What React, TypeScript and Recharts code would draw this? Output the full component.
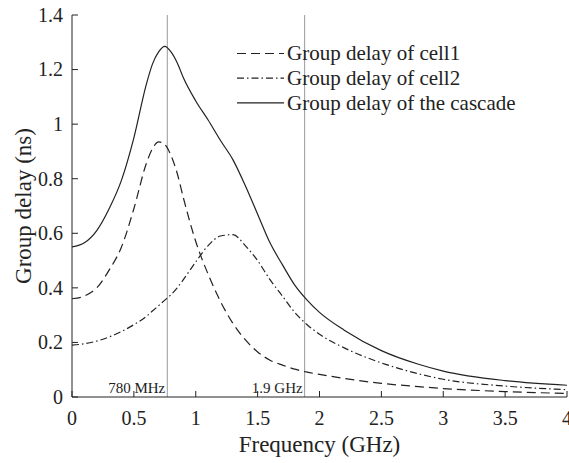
import { LineChart, Line, XAxis, YAxis, ReferenceLine, Legend } from 'recharts';

const SERIF = '"Liberation Serif", "Times New Roman", serif';
const INK = '#222';
const serifStyle = { fontFamily: SERIF };

// frequency grid (GHz) and group delays (ns)
const FREQ = [0, 0.1, 0.2, 0.3, 0.4, 0.5, 0.6, 0.65, 0.7, 0.75, 0.8, 0.85, 0.9, 1.0, 1.1, 1.2, 1.3, 1.4, 1.5, 1.6, 1.7, 1.8, 1.9, 2.0, 2.2, 2.5, 2.8, 3.0, 3.5, 4.0];
const CELL1 = [0.36, 0.37, 0.4, 0.465, 0.55, 0.69, 0.855, 0.91, 0.935, 0.925, 0.885, 0.82, 0.73, 0.57, 0.45, 0.35, 0.27, 0.21, 0.165, 0.135, 0.117, 0.102, 0.091, 0.083, 0.068, 0.05, 0.038, 0.031, 0.02, 0.013];
const CELL2 = [0.19, 0.195, 0.205, 0.22, 0.24, 0.265, 0.295, 0.315, 0.335, 0.355, 0.375, 0.4, 0.43, 0.495, 0.555, 0.59, 0.595, 0.555, 0.5, 0.43, 0.37, 0.31, 0.265, 0.23, 0.18, 0.125, 0.085, 0.065, 0.04, 0.027];
const CASCADE = [0.55, 0.565, 0.61, 0.69, 0.795, 0.95, 1.145, 1.22, 1.265, 1.285, 1.265, 1.225, 1.17, 1.085, 1.015, 0.94, 0.87, 0.775, 0.67, 0.565, 0.485, 0.41, 0.355, 0.31, 0.245, 0.17, 0.12, 0.095, 0.06, 0.043];

const X_TICKS = [0, 0.5, 1, 1.5, 2, 2.5, 3, 3.5, 4];
const Y_TICKS = [0, 0.2, 0.4, 0.6, 0.8, 1, 1.2, 1.4];
const MARKERS = [{ f: 0.77, label: '780 MHz' }, { f: 1.88, label: '1.9 GHz' }];

const SERIES = [
  { key: 'cell1', name: 'Group delay of cell1', dash: '9 5' },
  { key: 'cell2', name: 'Group delay of cell2', dash: '7 3 1.5 3' },
  { key: 'cascade', name: 'Group delay of the cascade', dash: undefined },
];

const data = FREQ.map((f, i) => ({ f, cell1: CELL1[i], cell2: CELL2[i], cascade: CASCADE[i] }));

const renderLegend = () => (
  <svg width={320} height={76} style={{ display: 'block' }}>
    {SERIES.map((s, i) => (
      <g key={s.key} transform={`translate(0, ${12.5 + i * 24.7})`}>
        <line x1={0} x2={47} y1={0} y2={0} stroke={INK} strokeWidth={1.2} strokeDasharray={s.dash} />
        <text x={50} y={0} dy="0.33em" fontSize={21} style={serifStyle} fill={INK}>{s.name}</text>
      </g>
    ))}
  </svg>
);

const xTick = (p: any) => (
  <text x={p.x} y={p.y} dy="0.71em" textAnchor="middle" fontSize={20} fill={INK} style={serifStyle}>
    {p.payload.value}
  </text>
);

const yTick = (p: any) => (
  <text x={p.x} y={p.y} dy="0.34em" textAnchor="end" fontSize={20} fill={INK} style={serifStyle}>
    {p.payload.value}
  </text>
);

const xLabel = (p: any) => (
  <text x={p.viewBox.x + p.viewBox.width / 2} y={452} textAnchor="middle" fontSize={23} fill={INK} style={serifStyle}>
    Frequency (GHz)
  </text>
);

const yLabel = () => (
  <text x={31} y={206} transform="rotate(-90 31 206)" textAnchor="middle" fontSize={23} fill={INK} style={serifStyle}>
    Group delay (ns)
  </text>
);

const markerLabel = (text: string) => (p: any) => (
  <text x={p.viewBox.x - 2} y={p.viewBox.y + p.viewBox.height - 4} textAnchor="end" fontSize={15} fill={INK} style={serifStyle}>
    {text}
  </text>
);

export default function App() {
  return (
    <div style={{ position: 'absolute', left: 0, top: 0, background: '#fff', fontFamily: SERIF }}>
      <LineChart width={569} height={463} data={data} margin={{ top: 15, right: 2, bottom: 0, left: 0 }}>
        <XAxis
          dataKey="f" type="number" domain={[0, 4]} ticks={X_TICKS} interval={0} allowDataOverflow
          height={66} tickSize={-6} tickMargin={20} stroke={INK} tick={xTick}
          label={{ content: xLabel }}
        />
        <XAxis
          xAxisId="top" orientation="top" type="number" domain={[0, 4]} ticks={X_TICKS} interval={0}
          height={0} tickSize={-6} stroke={INK} tick={() => null}
        />
        <YAxis
          type="number" domain={[0, 1.4]} ticks={Y_TICKS} interval={0} allowDataOverflow
          width={72} tickSize={-6} tickMargin={15} stroke={INK} tick={yTick}
          label={{ content: yLabel }}
        />
        <YAxis
          yAxisId="right" orientation="right" type="number" domain={[0, 1.4]} ticks={Y_TICKS} interval={0}
          width={0} tickSize={-6} stroke={INK} tick={() => null}
        />
        {MARKERS.map(m => (
          <ReferenceLine key={m.label} x={m.f} stroke="#999" strokeWidth={1} label={{ content: markerLabel(m.label) }} />
        ))}
        {SERIES.map(s => (
          <Line
            key={s.key} dataKey={s.key} name={s.name} type="monotone" dot={false} activeDot={false}
            stroke={INK} strokeWidth={1.2} strokeDasharray={s.dash} isAnimationActive={false}
          />
        ))}
        <Legend
          content={renderLegend} layout="horizontal" verticalAlign="middle" align="center"
          wrapperStyle={{ position: 'absolute', left: 237, top: 41, width: 320, height: 76 }}
        />
      </LineChart>
    </div>
  );
}
